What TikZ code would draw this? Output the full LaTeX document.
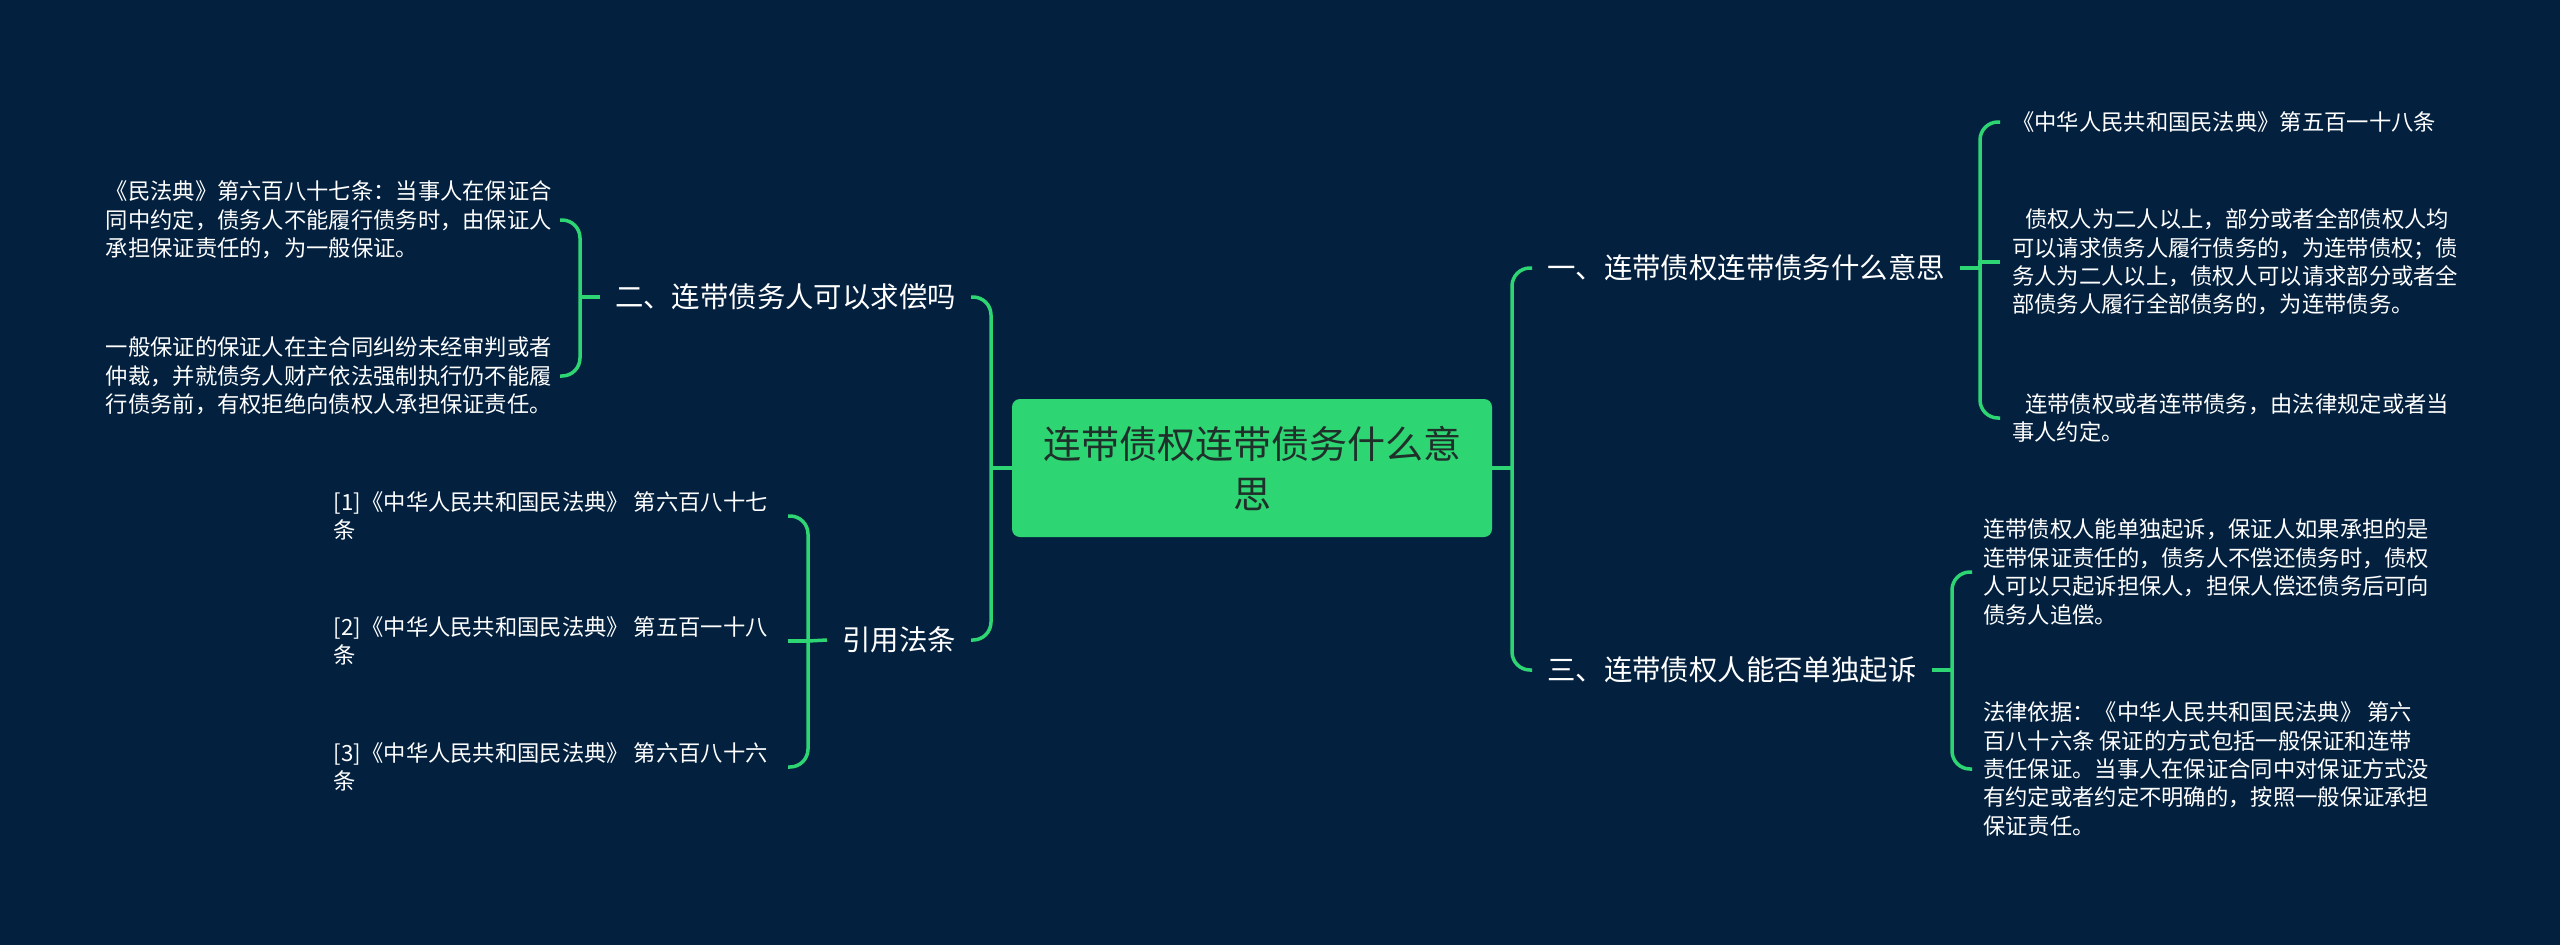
\documentclass[tikz,border=0pt]{standalone}
\usepackage{fontspec}
\setmainfont{Noto Sans CJK SC}
\usepackage{xcolor}
\usepackage{tikz}
\usetikzlibrary{positioning}
\definecolor{nightbg}{HTML}{03213F}
\definecolor{mintline}{HTML}{2ED573}
\definecolor{hubink}{HTML}{1F2F2A}

\begin{document}
\begin{tikzpicture}[x=1pt, y=-1pt,
    hub/.style={rectangle, rounded corners=8pt, fill=mintline, text=hubink, minimum width=480pt, minimum height=138pt, align=center, font=\fontsize{38}{50}\selectfont},
    topic/.style={text=white, inner xsep=15pt, font=\fontsize{28.4}{34}\selectfont},
    leaf/.style={text=white, align=left, font=\fontsize{22.3}{28.4}\selectfont},
    link/.style={draw=mintline, line width=3.5pt, rounded corners=18pt}
]
\fill[nightbg] (0,0) rectangle (2560,945);

\node[hub] (root) at (1252,468) {连带债权连带债务什么意\\思};
\node[topic, anchor=west] (one) at (1532,268) {一、连带债权连带债务什么意思};
\node[topic, anchor=west] (three) at (1532,670) {三、连带债权人能否单独起诉};
\node[topic, anchor=east] (two) at (971,297) {二、连带债务人可以求偿吗};
\node[topic, anchor=east] (refs) at (971,640) {引用法条};

\node[leaf, anchor=west, inner xsep=12pt] (one1) at (2000,122) {《中华人民共和国民法典》第五百一十八条};
\node[leaf, anchor=west, inner xsep=12pt] (one2) at (2000,262) {\hspace*{13pt}债权人为二人以上，部分或者全部债权人均\\可以请求债务人履行债务的，为连带债权；债\\务人为二人以上，债权人可以请求部分或者全\\部债务人履行全部债务的，为连带债务。};
\node[leaf, anchor=west, inner xsep=12pt] (one3) at (2000,418) {\hspace*{13pt}连带债权或者连带债务，由法律规定或者当\\事人约定。};
\node[leaf, anchor=west, inner xsep=11pt] (three1) at (1972,572) {连带债权人能单独起诉，保证人如果承担的是\\连带保证责任的，债务人不偿还债务时，债权\\人可以只起诉担保人，担保人偿还债务后可向\\债务人追偿。};
\node[leaf, anchor=west, inner xsep=11pt] (three2) at (1972,769) {法律依据：《中华人民共和国民法典》 第六\\百八十六条 保证的方式包括一般保证和连带\\责任保证。当事人在保证合同中对保证方式没\\有约定或者约定不明确的，按照一般保证承担\\保证责任。};
\node[leaf, anchor=east, inner xsep=8pt] (two1) at (560,220) {《民法典》第六百八十七条：当事人在保证合\\同中约定，债务人不能履行债务时，由保证人\\承担保证责任的，为一般保证。};
\node[leaf, anchor=east, inner xsep=8pt] (two2) at (560,376) {一般保证的保证人在主合同纠纷未经审判或者\\仲裁，并就债务人财产依法强制执行仍不能履\\行债务前，有权拒绝向债权人承担保证责任。};
\node[leaf, anchor=east, inner xsep=20pt] (refs1) at (788,516) {[1]《中华人民共和国民法典》 第六百八十七\\条};
\node[leaf, anchor=east, inner xsep=20pt] (refs2) at (788,641) {[2]《中华人民共和国民法典》 第五百一十八\\条};
\node[leaf, anchor=east, inner xsep=20pt] (refs3) at (788,767) {[3]《中华人民共和国民法典》 第六百八十六\\条};

\coordinate (rootR) at (1512,468);
\coordinate (rootL) at (991,468);
\coordinate (oneJ) at (1980,268);
\coordinate (threeJ) at (1952,670);
\coordinate (twoJ) at (580,297);
\coordinate (refsJ) at (808,641);

\draw[link] (root.east) -- (rootR);
\draw[link] (rootR) |- (one.west);
\draw[link] (rootR) |- (three.west);
\draw[link] (root.west) -- (rootL);
\draw[link] (rootL) |- (two.east);
\draw[link] (rootL) |- (refs.east);
\draw[link] (one.east) -- (oneJ);
\draw[link] (oneJ) |- (one1.west);
\draw[link, sharp corners] (oneJ) |- (one2.west);
\draw[link] (oneJ) |- (one3.west);
\draw[link] (three.east) -- (threeJ);
\draw[link] (threeJ) |- (three1.west);
\draw[link] (threeJ) |- (three2.west);
\draw[link] (two.west) -- (twoJ);
\draw[link] (twoJ) |- (two1.east);
\draw[link] (twoJ) |- (two2.east);
\draw[link] (refs.west) -- (refsJ);
\draw[link] (refsJ) |- (refs1.east);
\draw[link] (refsJ) -- (refs2.east);
\draw[link] (refsJ) |- (refs3.east);
\end{tikzpicture}
\end{document}
